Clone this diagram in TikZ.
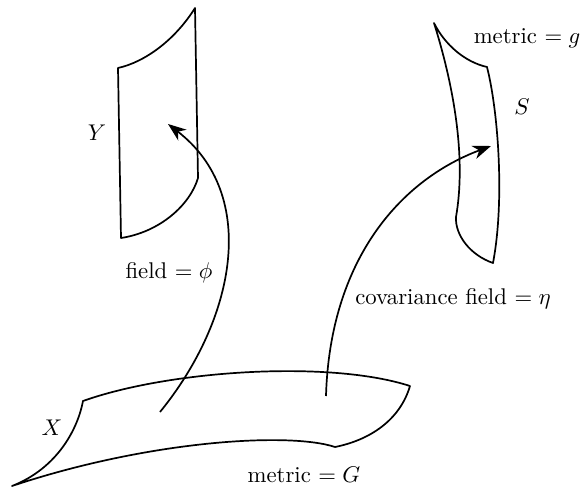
\documentclass[tikz,border=0pt]{standalone}
\usetikzlibrary{arrows.meta}
\begin{document}
\begin{tikzpicture}[x=0.44pt, y=-0.44pt,
  sheet/.style={line width=0.75pt, line join=round},
  map/.style={line width=0.75pt, -{Stealth[length=8pt, width=6pt, inset=2.5pt]}}]
\useasboundingbox (0,0) rectangle (581,488);

% Arrow end points
\coordinate (phiStart) at (160,412); % from X
\coordinate (phiTip) at (168,124);   % into Y
\coordinate (etaStart) at (326,396); % from X
\coordinate (etaTip) at (491,146);   % into S

% Sheet Y
\draw[sheet] (118,68) .. controls (145,62) and (175,40) .. (195,8)
  -- (198,178) .. controls (190,205) and (160,232) .. (121,238) -- cycle;

% Sheet S
\draw[sheet] (434,23) .. controls (445,45) and (465,62) .. (487,67)
  .. controls (498,110) and (505,200) .. (493,263)
  .. controls (470,255) and (455,235) .. (456,217)
  .. controls (466,160) and (455,90) .. (434,23) -- cycle;

% Sheet X
\draw[sheet] (12,486) .. controls (58,468) and (78,428) .. (83,401)
  .. controls (170,370) and (330,360) .. (410,386)
  .. controls (400,420) and (370,440) .. (335,447)
  .. controls (290,432) and (150,440) .. (12,486) -- cycle;

% Maps out of X
\draw[map] (phiStart) .. controls (235,320) and (260,195) .. (phiTip);
\draw[map] (etaStart) .. controls (330,260) and (400,180) .. (etaTip);

% Labels
\node (labY) at (97,133) {$Y$};
\node (labS) at (522,107) {$S$};
\node (labX) at (52,428) {$X$};
\node (labg) at (527,38) {metric $= g$};
\node (labG) at (304,475) {metric $= G$};
\node (labphi) at (169,273) {field $= \phi$};
\node (labeta) at (453,299) {covariance field $= \eta$};
\end{tikzpicture}
\end{document}
